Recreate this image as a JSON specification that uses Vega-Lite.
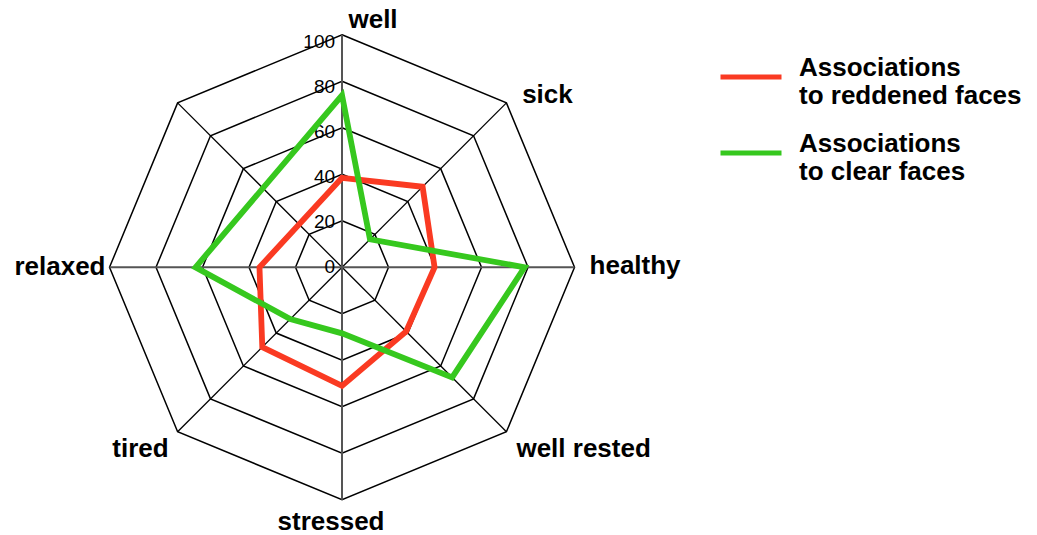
{
  "$schema": "https://vega.github.io/schema/vega-lite/v6.json",
  "width": 1037,
  "height": 535,
  "autosize": "none",
  "padding": 0,
  "background": "white",
  "config": {"view": {"stroke": null}, "font": "Liberation Sans"},
  "datasets": {
    "axes": [
      {"axis": "well", "k": 0},
      {"axis": "sick", "k": 1},
      {"axis": "healthy", "k": 2},
      {"axis": "well rested", "k": 3},
      {"axis": "stressed", "k": 4},
      {"axis": "tired", "k": 5},
      {"axis": "relaxed", "k": 6},
      {"axis": "", "k": 7}
    ],
    "rings": [
      {"ring": 20, "k": [0, 1, 2, 3, 4, 5, 6, 7]},
      {"ring": 40, "k": [0, 1, 2, 3, 4, 5, 6, 7]},
      {"ring": 60, "k": [0, 1, 2, 3, 4, 5, 6, 7]},
      {"ring": 80, "k": [0, 1, 2, 3, 4, 5, 6, 7]},
      {"ring": 100, "k": [0, 1, 2, 3, 4, 5, 6, 7]}
    ],
    "ticks": [
      {"tick": 0}, {"tick": 20}, {"tick": 40}, {"tick": 60}, {"tick": 80}, {"tick": 100}
    ],
    "scores": [
      {"series": "Associations to reddened faces", "axis": "well", "value": 38.5},
      {"series": "Associations to reddened faces", "axis": "sick", "value": 49},
      {"series": "Associations to reddened faces", "axis": "healthy", "value": 39.8},
      {"series": "Associations to reddened faces", "axis": "well rested", "value": 39},
      {"series": "Associations to reddened faces", "axis": "stressed", "value": 51},
      {"series": "Associations to reddened faces", "axis": "tired", "value": 48.5},
      {"series": "Associations to reddened faces", "axis": "relaxed", "value": 35.5},
      {"series": "Associations to clear faces", "axis": "well", "value": 74},
      {"series": "Associations to clear faces", "axis": "sick", "value": 17},
      {"series": "Associations to clear faces", "axis": "healthy", "value": 78.5},
      {"series": "Associations to clear faces", "axis": "well rested", "value": 67},
      {"series": "Associations to clear faces", "axis": "stressed", "value": 28.4},
      {"series": "Associations to clear faces", "axis": "tired", "value": 31.5},
      {"series": "Associations to clear faces", "axis": "relaxed", "value": 63}
    ]
  },
  "layer": [
    {
      "data": {"name": "rings"},
      "transform": [
        {"flatten": ["k"]},
        {"calculate": "datum.ring * sin(datum.k * PI / 4)", "as": "px"},
        {"calculate": "datum.ring * cos(datum.k * PI / 4)", "as": "py"}
      ],
      "mark": {"type": "line", "interpolate": "linear-closed", "color": "black", "strokeWidth": 1.5},
      "encoding": {
        "x": {"field": "px", "type": "quantitative", "axis": null, "scale": {"domain": [-147.1, 298.9], "nice": false, "zero": false}},
        "y": {"field": "py", "type": "quantitative", "axis": null, "scale": {"domain": [-115.14, 114.97], "nice": false, "zero": false}},
        "detail": {"field": "ring", "type": "nominal"},
        "order": {"field": "k", "type": "quantitative"}
      }
    },
    {
      "data": {"name": "axes"},
      "transform": [
        {"filter": "datum.k % 2 == 1"},
        {"calculate": "0", "as": "cx"},
        {"calculate": "100 * sin(datum.k * PI / 4)", "as": "px"},
        {"calculate": "100 * cos(datum.k * PI / 4)", "as": "py"}
      ],
      "mark": {"type": "rule", "color": "black", "strokeWidth": 1.3},
      "encoding": {
        "x": {"field": "cx", "type": "quantitative", "axis": null, "scale": {"domain": [-147.1, 298.9], "nice": false, "zero": false}},
        "y": {"field": "cx", "type": "quantitative", "axis": null, "scale": {"domain": [-115.14, 114.97], "nice": false, "zero": false}},
        "x2": {"field": "px"},
        "y2": {"field": "py"}
      }
    },
    {
      "data": {"name": "axes"},
      "transform": [
        {"filter": "datum.k % 2 == 0"},
        {"calculate": "0", "as": "cx"},
        {"calculate": "100 * sin(datum.k * PI / 4)", "as": "px"},
        {"calculate": "100 * cos(datum.k * PI / 4)", "as": "py"}
      ],
      "mark": {"type": "rule", "color": "#555555", "strokeWidth": 2},
      "encoding": {
        "x": {"field": "cx", "type": "quantitative", "axis": null, "scale": {"domain": [-147.1, 298.9], "nice": false, "zero": false}},
        "y": {"field": "cx", "type": "quantitative", "axis": null, "scale": {"domain": [-115.14, 114.97], "nice": false, "zero": false}},
        "x2": {"field": "px"},
        "y2": {"field": "py"}
      }
    },
    {
      "data": {"name": "ticks"},
      "transform": [
        {"calculate": "0", "as": "cx"},
        {"calculate": "datum.tick * 0.968", "as": "py"}
      ],
      "mark": {"type": "text", "align": "right", "baseline": "alphabetic", "dx": -7, "dy": 6, "fontSize": 19, "font": "Liberation Sans", "color": "black"},
      "encoding": {
        "x": {"field": "cx", "type": "quantitative", "axis": null, "scale": {"domain": [-147.1, 298.9], "nice": false, "zero": false}},
        "y": {"field": "py", "type": "quantitative", "axis": null, "scale": {"domain": [-115.14, 114.97], "nice": false, "zero": false}},
        "text": {"field": "tick", "type": "quantitative"}
      }
    },
    {
      "data": {"name": "scores"},
      "transform": [
        {"lookup": "axis", "from": {"data": {"name": "axes"}, "key": "axis", "fields": ["k"]}},
        {"calculate": "datum.value * sin(datum.k * PI / 4)", "as": "px"},
        {"calculate": "datum.value * cos(datum.k * PI / 4)", "as": "py"}
      ],
      "mark": {"type": "line", "interpolate": "linear-closed", "strokeWidth": 5.8, "strokeJoin": "miter"},
      "encoding": {
        "x": {"field": "px", "type": "quantitative", "axis": null, "scale": {"domain": [-147.1, 298.9], "nice": false, "zero": false}},
        "y": {"field": "py", "type": "quantitative", "axis": null, "scale": {"domain": [-115.14, 114.97], "nice": false, "zero": false}},
        "order": {"field": "k", "type": "quantitative"},
        "color": {
          "field": "series",
          "type": "nominal",
          "scale": {"domain": ["Associations to reddened faces", "Associations to clear faces"], "range": ["#fa3a22", "#36c81e"]},
          "legend": {
            "orient": "none",
            "legendX": 718,
            "legendY": 44,
            "title": null,
            "padding": 0,
            "symbolType": "stroke",
            "symbolSize": 3721,
            "symbolStrokeWidth": 5,
            "labelFont": "Liberation Sans",
            "labelFontSize": 26,
            "labelFontWeight": "bold",
            "labelColor": "black",
            "labelOffset": 15,
            "labelLimit": 400,
            "rowPadding": 11,
            "labelExpr": "['Associations', substring(datum.label, 13)]",
            "encode": {"labels": {"update": {"dy": {"value": -9}}}}
          }
        }
      }
    },
    {
      "data": {"name": "axes"},
      "transform": [
        {"filter": "datum.axis == 'well'"},
        {"calculate": "100 * sin(datum.k * PI / 4)", "as": "px"},
        {"calculate": "100 * cos(datum.k * PI / 4)", "as": "py"}
      ],
      "mark": {"type": "text", "align": "center", "baseline": "alphabetic", "dx": 31, "dy": -7, "fontSize": 26, "fontWeight": "bold", "font": "Liberation Sans", "color": "black"},
      "encoding": {
        "x": {"field": "px", "type": "quantitative", "axis": null, "scale": {"domain": [-147.1, 298.9], "nice": false, "zero": false}},
        "y": {"field": "py", "type": "quantitative", "axis": null, "scale": {"domain": [-115.14, 114.97], "nice": false, "zero": false}},
        "text": {"field": "axis", "type": "nominal"}
      }
    },
    {
      "data": {"name": "axes"},
      "transform": [
        {"filter": "datum.axis == 'sick'"},
        {"calculate": "100 * sin(datum.k * PI / 4)", "as": "px"},
        {"calculate": "100 * cos(datum.k * PI / 4)", "as": "py"}
      ],
      "mark": {"type": "text", "align": "center", "baseline": "alphabetic", "dx": 41, "dy": 0, "fontSize": 26, "fontWeight": "bold", "font": "Liberation Sans", "color": "black"},
      "encoding": {
        "x": {"field": "px", "type": "quantitative", "axis": null, "scale": {"domain": [-147.1, 298.9], "nice": false, "zero": false}},
        "y": {"field": "py", "type": "quantitative", "axis": null, "scale": {"domain": [-115.14, 114.97], "nice": false, "zero": false}},
        "text": {"field": "axis", "type": "nominal"}
      }
    },
    {
      "data": {"name": "axes"},
      "transform": [
        {"filter": "datum.axis == 'healthy'"},
        {"calculate": "100 * sin(datum.k * PI / 4)", "as": "px"},
        {"calculate": "100 * cos(datum.k * PI / 4)", "as": "py"}
      ],
      "mark": {"type": "text", "align": "left", "baseline": "alphabetic", "dx": 15, "dy": 7, "fontSize": 26, "fontWeight": "bold", "font": "Liberation Sans", "color": "black"},
      "encoding": {
        "x": {"field": "px", "type": "quantitative", "axis": null, "scale": {"domain": [-147.1, 298.9], "nice": false, "zero": false}},
        "y": {"field": "py", "type": "quantitative", "axis": null, "scale": {"domain": [-115.14, 114.97], "nice": false, "zero": false}},
        "text": {"field": "axis", "type": "nominal"}
      }
    },
    {
      "data": {"name": "axes"},
      "transform": [
        {"filter": "datum.axis == 'well rested'"},
        {"calculate": "100 * sin(datum.k * PI / 4)", "as": "px"},
        {"calculate": "100 * cos(datum.k * PI / 4)", "as": "py"}
      ],
      "mark": {"type": "text", "align": "left", "baseline": "alphabetic", "dx": 10, "dy": 25, "fontSize": 26, "fontWeight": "bold", "font": "Liberation Sans", "color": "black"},
      "encoding": {
        "x": {"field": "px", "type": "quantitative", "axis": null, "scale": {"domain": [-147.1, 298.9], "nice": false, "zero": false}},
        "y": {"field": "py", "type": "quantitative", "axis": null, "scale": {"domain": [-115.14, 114.97], "nice": false, "zero": false}},
        "text": {"field": "axis", "type": "nominal"}
      }
    },
    {
      "data": {"name": "axes"},
      "transform": [
        {"filter": "datum.axis == 'stressed'"},
        {"calculate": "100 * sin(datum.k * PI / 4)", "as": "px"},
        {"calculate": "100 * cos(datum.k * PI / 4)", "as": "py"}
      ],
      "mark": {"type": "text", "align": "center", "baseline": "alphabetic", "dx": -11, "dy": 30, "fontSize": 26, "fontWeight": "bold", "font": "Liberation Sans", "color": "black"},
      "encoding": {
        "x": {"field": "px", "type": "quantitative", "axis": null, "scale": {"domain": [-147.1, 298.9], "nice": false, "zero": false}},
        "y": {"field": "py", "type": "quantitative", "axis": null, "scale": {"domain": [-115.14, 114.97], "nice": false, "zero": false}},
        "text": {"field": "axis", "type": "nominal"}
      }
    },
    {
      "data": {"name": "axes"},
      "transform": [
        {"filter": "datum.axis == 'tired'"},
        {"calculate": "100 * sin(datum.k * PI / 4)", "as": "px"},
        {"calculate": "100 * cos(datum.k * PI / 4)", "as": "py"}
      ],
      "mark": {"type": "text", "align": "right", "baseline": "alphabetic", "dx": -9, "dy": 25, "fontSize": 26, "fontWeight": "bold", "font": "Liberation Sans", "color": "black"},
      "encoding": {
        "x": {"field": "px", "type": "quantitative", "axis": null, "scale": {"domain": [-147.1, 298.9], "nice": false, "zero": false}},
        "y": {"field": "py", "type": "quantitative", "axis": null, "scale": {"domain": [-115.14, 114.97], "nice": false, "zero": false}},
        "text": {"field": "axis", "type": "nominal"}
      }
    },
    {
      "data": {"name": "axes"},
      "transform": [
        {"filter": "datum.axis == 'relaxed'"},
        {"calculate": "100 * sin(datum.k * PI / 4)", "as": "px"},
        {"calculate": "100 * cos(datum.k * PI / 4)", "as": "py"}
      ],
      "mark": {"type": "text", "align": "right", "baseline": "alphabetic", "dx": -4, "dy": 8, "fontSize": 26, "fontWeight": "bold", "font": "Liberation Sans", "color": "black"},
      "encoding": {
        "x": {"field": "px", "type": "quantitative", "axis": null, "scale": {"domain": [-147.1, 298.9], "nice": false, "zero": false}},
        "y": {"field": "py", "type": "quantitative", "axis": null, "scale": {"domain": [-115.14, 114.97], "nice": false, "zero": false}},
        "text": {"field": "axis", "type": "nominal"}
      }
    }
  ]
}
